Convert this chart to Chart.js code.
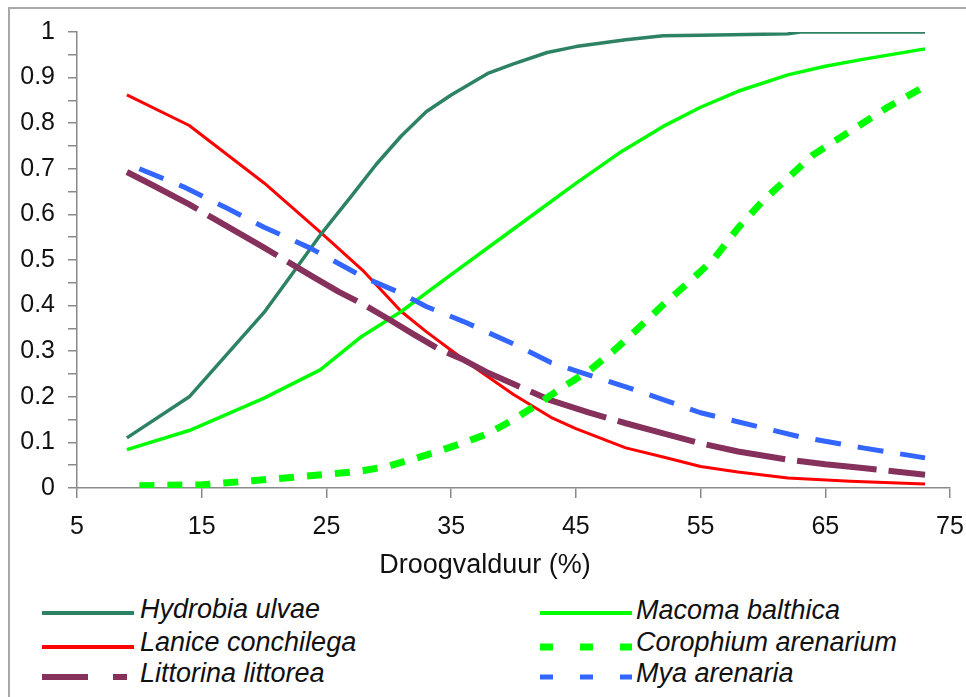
<!DOCTYPE html>
<html>
<head>
<meta charset="utf-8">
<script src="https://cdn.jsdelivr.net/npm/chart.js@4.4.1/dist/chart.umd.min.js"></script>
<style>
  html, body { margin: 0; padding: 0; background: #fff; }
  #wrap { position: relative; width: 966px; height: 697px; overflow: hidden; background: #fff; }
  #frame { position: absolute; left: 8px; top: 7px; width: 980px; height: 720px; border: 2px solid #a8a8a8; box-sizing: border-box; }
  #c { position: absolute; left: 0; top: 0; }
  .lg { position: absolute; font-family: 'Liberation Sans', Arial, sans-serif; font-style: italic; font-size: 27px; line-height: 30px; color: #111; white-space: nowrap; }
  .ls { position: absolute; }
  #xtitle { position: absolute; left: 335px; width: 300px; top: 548px; text-align: center; font-family: 'Liberation Sans', Arial, sans-serif; font-size: 27px; line-height: 32px; color: #111; white-space: nowrap; }
</style>
</head>
<body>
<div id="wrap">
  <div id="frame"></div>
  <canvas id="c" width="966" height="585"></canvas>
  <div id="xtitle"></div>
  <div id="legend"></div>
</div>
<script>
// ---------- data ----------
const xTicks = [5, 15, 25, 35, 45, 55, 65, 75];
const xTitle = 'Droogvalduur (%)';

const seriesNames = ['Hydrobia ulvae', 'Lanice conchilega', 'Littorina littorea',
                     'Macoma balthica', 'Corophium arenarium', 'Mya arenaria'];

const hydrobiaX = [9, 14, 20, 22, 24.6, 27, 29, 31, 33, 35, 38, 40, 42.7, 45, 49, 52, 55, 60, 62, 63, 68, 73];
const hydrobiaY = [0.11, 0.20, 0.385, 0.46, 0.558, 0.64, 0.71, 0.772, 0.825, 0.862, 0.91, 0.93, 0.955, 0.968, 0.983, 0.992, 0.993, 0.995, 0.996, 1.0, 1.0, 1.0];

const laniceX = [9, 14, 20, 24.6, 28, 31, 33, 35, 37, 40, 43, 45, 49, 52, 55, 58, 62, 67, 73];
const laniceY = [0.862, 0.795, 0.669, 0.559, 0.475, 0.387, 0.343, 0.302, 0.262, 0.205, 0.155, 0.13, 0.088, 0.068, 0.047, 0.035, 0.022, 0.015, 0.009];

const littorinaX = [9, 11, 14, 16, 20, 24, 26, 28, 30, 32, 34, 36, 38, 40, 43, 46, 49, 52, 55, 58, 62, 65, 68, 73];
const littorinaY = [0.693, 0.665, 0.622, 0.59, 0.527, 0.462, 0.43, 0.402, 0.37, 0.337, 0.305, 0.281, 0.252, 0.228, 0.192, 0.166, 0.142, 0.12, 0.098, 0.08, 0.062, 0.052, 0.044, 0.029];

const macomaX = [9, 14, 20, 24.5, 27.7, 31, 35, 38, 40, 42, 45, 48.5, 52, 55, 58, 62, 65, 68, 73];
const macomaY = [0.084, 0.126, 0.197, 0.259, 0.33, 0.387, 0.468, 0.528, 0.568, 0.608, 0.668, 0.735, 0.793, 0.835, 0.87, 0.906, 0.925, 0.94, 0.963];

const corophiumX = [10, 15, 20, 25, 27.5, 30, 33, 36, 38, 40, 42, 44, 46, 48, 50, 52, 54, 56, 58, 60, 62, 64, 66, 68, 70, 73];
const corophiumY = [0.005, 0.007, 0.018, 0.03, 0.036, 0.048, 0.072, 0.099, 0.12, 0.15, 0.185, 0.222, 0.256, 0.3, 0.35, 0.402, 0.45, 0.5, 0.57, 0.63, 0.68, 0.73, 0.765, 0.8, 0.835, 0.881];

const myaX = [10, 13.5, 17, 20, 23.7, 25, 28, 31, 33, 36, 40, 43, 46, 49, 52, 55, 60, 63, 68, 73];
const myaY = [0.70, 0.661, 0.614, 0.572, 0.526, 0.507, 0.462, 0.427, 0.398, 0.365, 0.316, 0.275, 0.248, 0.222, 0.194, 0.165, 0.132, 0.112, 0.088, 0.066];

// ---------- styles ----------
const styles = [
  { color: '#2E8264', width: 3.5, dash: [] },
  { color: '#FF0000', width: 3, dash: [] },
  { color: '#86305C', width: 6, dash: [80, 12] },
  { color: '#00FF00', width: 3.5, dash: [] },
  { color: '#00FF00', width: 7, dash: [15, 13] },
  { color: '#3366FF', width: 5, dash: [26, 17] }
];
const xs = [hydrobiaX, laniceX, littorinaX, macomaX, corophiumX, myaX];
const ys = [hydrobiaY, laniceY, littorinaY, macomaY, corophiumY, myaY];

const datasets = seriesNames.map((name, i) => ({
  label: name,
  data: xs[i].map((x, k) => ({ x: x, y: ys[i][k] })),
  borderColor: styles[i].color,
  backgroundColor: styles[i].color,
  borderWidth: styles[i].width,
  borderDash: styles[i].dash,
  borderCapStyle: 'butt',
  borderJoinStyle: 'round',
  pointRadius: 0,
  tension: 0,
  fill: false
}));
const order = [4, 5, 2, 3, 0, 1];
datasets.forEach((d, i) => d.order = order[i]);

Chart.defaults.font.family = "'Liberation Sans', Arial, sans-serif";
Chart.defaults.color = '#111';

const axisColor = '#8a8a8a';
new Chart(document.getElementById('c'), {
  type: 'line',
  data: { datasets: datasets },
  options: {
    responsive: false,
    animation: false,
    layout: { padding: { left: 0, top: 32, right: 16, bottom: 0 } },
    plugins: { legend: { display: false }, tooltip: { enabled: false } },
    scales: {
      x: {
        type: 'linear',
        min: 5, max: 75,
        afterBuildTicks: s => { s.ticks = xTicks.map(v => ({ value: v })); },
        afterFit: s => { s.height = 97; s.paddingRight = 0; s.paddingLeft = 0; },
        grid: { drawOnChartArea: false, tickLength: 10, color: axisColor, lineWidth: 1.5 },
        border: { color: axisColor, width: 1.5 },
        ticks: { font: { size: 25 }, padding: 14, maxRotation: 0, autoSkip: false, color: '#111' }
      },
      y: {
        type: 'linear',
        min: 0, max: 1,
        afterFit: s => { s.width = 77; s.paddingTop = 0; s.paddingBottom = 0; },
        grid: { drawOnChartArea: false, tickLength: 9, color: axisColor, lineWidth: 1.5 },
        border: { color: axisColor, width: 1.5 },
        ticks: {
          stepSize: 0.05, autoSkip: false, font: { size: 25 }, padding: 13, color: '#111',
          callback: v => { const r = Math.round(v * 100); return r % 10 === 0 ? String(r / 100) : ''; }
        }
      }
    }
  }
});

document.getElementById('xtitle').textContent = xTitle;

// ---------- legend (HTML) ----------
const legendPos = [
  { lx: 42, tx: 140, cy: 613, base: 618 },
  { lx: 42, tx: 140, cy: 647, base: 651 },
  { lx: 42, tx: 140, cy: 677, base: 682 },
  { lx: 540, tx: 636, cy: 613, base: 619 },
  { lx: 540, tx: 636, cy: 647, base: 651 },
  { lx: 540, tx: 636, cy: 677, base: 682 }
];
const legendDash = ['', '', '46 25 14 100', '', '13 27', '13 27'];
const legendWidth = [4, 4, 6, 4, 7, 5];
const lg = document.getElementById('legend');
seriesNames.forEach((name, i) => {
  const p = legendPos[i];
  const svgNS = 'http://www.w3.org/2000/svg';
  const svg = document.createElementNS(svgNS, 'svg');
  svg.setAttribute('class', 'ls');
  svg.setAttribute('width', '93');
  svg.setAttribute('height', '14');
  svg.style.left = p.lx + 'px';
  svg.style.top = (p.cy - 7) + 'px';
  const ln = document.createElementNS(svgNS, 'line');
  ln.setAttribute('x1', '0'); ln.setAttribute('x2', '92');
  ln.setAttribute('y1', '7'); ln.setAttribute('y2', '7');
  ln.setAttribute('stroke', styles[i].color);
  ln.setAttribute('stroke-width', legendWidth[i]);
  if (legendDash[i]) ln.setAttribute('stroke-dasharray', legendDash[i]);
  svg.appendChild(ln);
  lg.appendChild(svg);
  const t = document.createElement('div');
  t.className = 'lg';
  t.textContent = name;
  t.style.left = p.tx + 'px';
  t.style.top = (p.base - 24) + 'px';
  lg.appendChild(t);
});
</script>
</body>
</html>
